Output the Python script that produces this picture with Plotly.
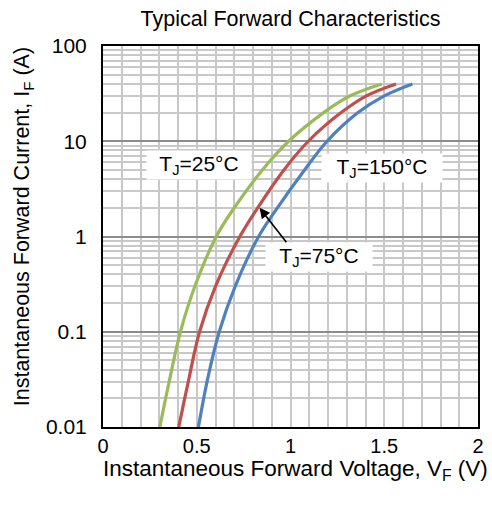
import math
import plotly.graph_objects as go

# Forward current levels (A) and forward voltage (V)
current = [0.01, 0.03, 0.1, 0.3, 1, 2, 5, 10, 20, 30, 40]
vf_25 = [0.303, 0.353, 0.413, 0.49, 0.604, 0.70, 0.85, 0.99, 1.177, 1.318, 1.486]
vf_75 = [0.404, 0.455, 0.515, 0.60, 0.73, 0.825, 0.965, 1.095, 1.27, 1.405, 1.563]
vf_150 = [0.509, 0.555, 0.62, 0.705, 0.83, 0.93, 1.075, 1.195, 1.36, 1.50, 1.65]

x_ticks = [0, 0.5, 1, 1.5, 2]
x_tick_text = ["0", "0.5", "1", "1.5", "2"]
y_ticks = [0.01, 0.1, 1, 10, 100]
y_tick_text = ["0.01", "0.1", "1", "10", "100"]
y_minor = [m * 10 ** e for e in range(-2, 2) for m in range(2, 10)]

FONT = "Arial, Liberation Sans, sans-serif"

fig = go.Figure()
for vf, col in [(vf_25, "#9BBB59"), (vf_75, "#C0504D"), (vf_150, "#4F81BD")]:
    fig.add_trace(go.Scatter(x=vf, y=current, mode="lines",
                             line=dict(color=col, width=3.2, shape="spline", smoothing=1.0),
                             showlegend=False, hoverinfo="skip"))

fig.update_layout(
    width=492, height=507,
    margin=dict(l=103, r=8, t=46, b=80),
    paper_bgcolor="white", plot_bgcolor="white",
    font=dict(family=FONT, size=21, color="black"),
    title=dict(text="Typical Forward Characteristics", x=0.5, xanchor="center",
               xref="paper", y=1 - 18 / 507, yanchor="middle",
               font=dict(family=FONT, size=21.5, color="black")),
)
fig.update_xaxes(
    range=[0, 2], tickmode="array", tickvals=x_ticks, ticktext=x_tick_text,
    showgrid=True, gridcolor="#C8C8C8", gridwidth=1.5,
    minor=dict(dtick=0.1, showgrid=True, gridcolor="#C8C8C8", gridwidth=1.5),
    showline=True, linecolor="black", linewidth=2, mirror=True,
    ticks="", ticklabelstandoff=0, zeroline=False,
    tickfont=dict(family=FONT, size=20),
)
fig.update_yaxes(
    type="log", range=[-2, 2], tickmode="array", tickvals=y_ticks, ticktext=y_tick_text,
    showgrid=True, gridcolor="#8C8C8C", gridwidth=2,
    minor=dict(tickmode="array", tickvals=y_minor, showgrid=True,
               gridcolor="#C8C8C8", gridwidth=1.5),
    showline=True, linecolor="black", linewidth=2, mirror=True,
    ticks="", ticklabelstandoff=10, zeroline=False,
    tickfont=dict(family=FONT, size=21),
)

# axis titles
fig.add_annotation(text="Instantaneous Forward Voltage, V<sub>F</sub> (V)",
                   xref="paper", yref="paper", x=(299 - 103) / 381, y=-(470 - 427) / 381,
                   xanchor="center", yanchor="middle", showarrow=False,
                   font=dict(family=FONT, size=22.5))
fig.add_annotation(text="Instantaneous Forward Current, I<sub>F</sub> (A)",
                   xref="paper", yref="paper", x=-(103 - 22) / 381, y=(427 - 227) / 381,
                   xanchor="center", yanchor="middle", textangle=-90, showarrow=False,
                   font=dict(family=FONT, size=21.5))

# curve labels (y given as log10 for the log axis)
labels = [("T<sub>J</sub>=25°C", 0.51, 0.75, 102),
          ("T<sub>J</sub>=150°C", 1.486, 0.72, 118),
          ("T<sub>J</sub>=75°C", 1.15, -0.215, 104)]
for txt, xv, yv, w in labels:
    fig.add_annotation(text=txt, x=xv, y=yv, showarrow=False, bgcolor="white",
                       width=w, height=26, align="center",
                       font=dict(family=FONT, size=21))

# arrow to the 75 C curve
fig.add_annotation(text="", x=0.835, y=math.log10(2), ax=28, ay=36, showarrow=True,
                   arrowhead=2, arrowsize=1.3, arrowwidth=1.6, arrowcolor="black",
                   standoff=0)

fig.write_html("out.html")
